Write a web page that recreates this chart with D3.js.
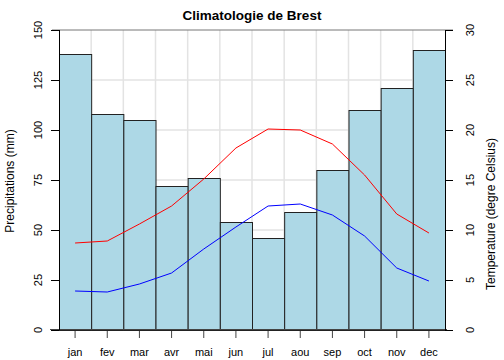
<!DOCTYPE html>
<html><head><meta charset="utf-8">
<script src="https://cdn.jsdelivr.net/npm/d3@7"></script>
<style>body{margin:0;background:#fff}svg{display:block;font-family:"Liberation Sans",Arial,sans-serif}</style>
</head><body><svg id="c" width="504" height="360"></svg>
<script>
const months = ["jan","fev","mar","avr","mai","jun","jul","aou","sep","oct","nov","dec"];
const precip = [138,108,105,72,76,54,46,59,80,110,121,140];
const tmax = [8.7,8.9,10.6,12.4,15.1,18.2,20.1,20.0,18.6,15.5,11.6,9.7];
const tmin = [3.9,3.8,4.6,5.7,8.1,10.3,12.4,12.6,11.5,9.4,6.2,4.9];
const precipTicks = [0,25,50,75,100,125,150];
const tempTicks = [0,5,10,15,20,25,30];

const svg = d3.select("#c");
const L=59, R=445, T=30, B=330;
const x = d3.scaleBand().domain(months).range([L,R]).padding(0);
const yP = d3.scaleLinear().domain([0,150]).range([B,T]);
const yT = d3.scaleLinear().domain([0,30]).range([B,T]);

// grid
const g = svg.append("g");
g.selectAll(".vg").data(months.slice(1)).join("line")
  .attr("x1",d=>x(d)).attr("x2",d=>x(d)).attr("y1",T).attr("y2",B)
  .attr("stroke","#e3e3e3").attr("stroke-width",1.5);
g.selectAll(".hg").data(precipTicks.slice(1,-1)).join("line")
  .attr("x1",L).attr("x2",R).attr("y1",d=>yP(d)).attr("y2",d=>yP(d))
  .attr("stroke","#e3e3e3").attr("stroke-width",1.5);
// top line
svg.append("line").attr("x1",52).attr("x2",453).attr("y1",yP(150)).attr("y2",yP(150))
  .attr("stroke","#777").attr("stroke-width",1);

// bars
svg.selectAll(".bar").data(precip).join("rect")
  .attr("x",(d,i)=>x(months[i])+0.5).attr("width",x.bandwidth())
  .attr("y",d=>Math.round(yP(d))+0.5).attr("height",d=>B-Math.round(yP(d)))
  .attr("fill","#ADD8E6").attr("stroke","#222").attr("stroke-width",1);

// bottom line
svg.append("line").attr("x1",50).attr("x2",447).attr("y1",B-0.5).attr("y2",B-0.5)
  .attr("stroke","#444").attr("stroke-width",1);

// temperature lines
const line = d3.line().x((d,i)=>x(months[i])+x.bandwidth()/2).y(d=>yT(d));
svg.append("path").datum(tmax).attr("d",line).attr("fill","none").attr("stroke","#ff0000").attr("stroke-width",1);
svg.append("path").datum(tmin).attr("d",line).attr("fill","none").attr("stroke","#0000ff").attr("stroke-width",1);

// left axis
const la = svg.append("g");
la.append("line").attr("x1",L+0.5).attr("x2",L+0.5).attr("y1",T).attr("y2",B).attr("stroke","#000");
la.selectAll(".t").data(precipTicks).join("line")
  .attr("x1",L-8).attr("x2",L).attr("y1",d=>yP(d)+0.5).attr("y2",d=>yP(d)+0.5).attr("stroke","#000");
la.selectAll(".l").data(precipTicks).join("text")
  .attr("transform",d=>`translate(42,${yP(d)}) rotate(-90)`)
  .attr("text-anchor","middle").attr("font-size",11).text(d=>d);

// right axis
const ra = svg.append("g");
ra.append("line").attr("x1",R+0.5).attr("x2",R+0.5).attr("y1",T).attr("y2",B).attr("stroke","#000");
ra.selectAll(".t").data(tempTicks).join("line")
  .attr("x1",R).attr("x2",R+8).attr("y1",d=>yT(d)+0.5).attr("y2",d=>yT(d)+0.5).attr("stroke","#000");
ra.selectAll(".l").data(tempTicks).join("text")
  .attr("transform",d=>`translate(474,${yT(d)}) rotate(-90)`)
  .attr("text-anchor","middle").attr("font-size",11).text(d=>d);

// bottom ticks
svg.selectAll(".bt").data(months).join("line")
  .attr("x1",d=>x(d)+x.bandwidth()/2).attr("x2",d=>x(d)+x.bandwidth()/2)
  .attr("y1",B+1).attr("y2",B+8).attr("stroke","#444");
svg.selectAll(".bl").data(months).join("text")
  .attr("x",d=>x(d)+x.bandwidth()/2).attr("y",356)
  .attr("text-anchor","middle").attr("font-size",11).text(d=>d);

// titles
svg.append("text").attr("x",252).attr("y",20).attr("text-anchor","middle")
  .attr("font-size",13.5).attr("font-weight","bold").text("Climatologie de Brest");
svg.append("text").attr("transform","translate(14,181) rotate(-90)")
  .attr("text-anchor","middle").attr("font-size",12).text("Precipitations (mm)");
svg.append("text").attr("transform","translate(495,214) rotate(-90)")
  .attr("text-anchor","middle").attr("font-size",12).text("Temperature (degre Celsius)");
</script></body></html>
